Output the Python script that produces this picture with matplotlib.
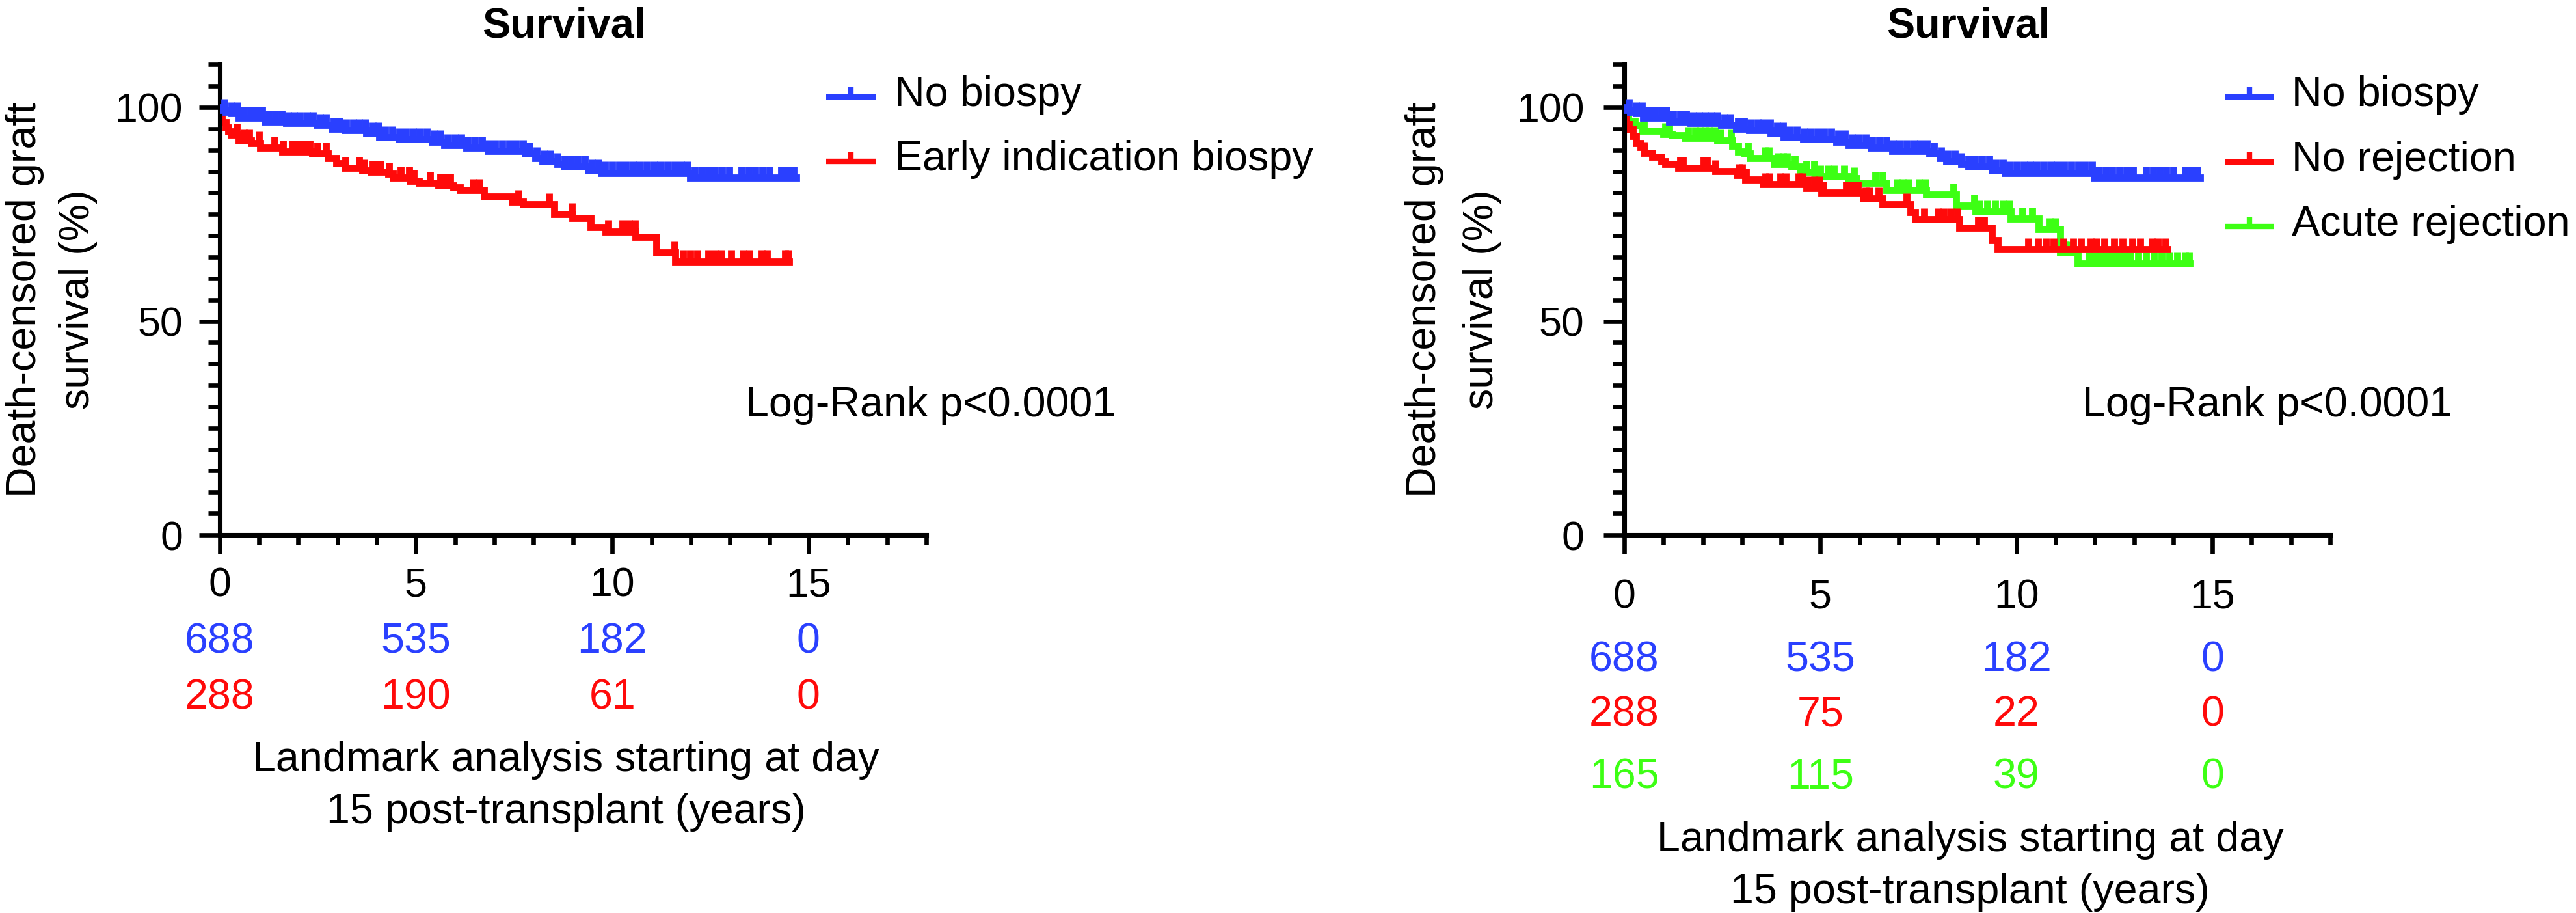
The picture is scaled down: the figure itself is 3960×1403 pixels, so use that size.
import numpy as np
import matplotlib
matplotlib.use("Agg")
import matplotlib.pyplot as plt
from matplotlib import transforms
from matplotlib.lines import Line2D
from matplotlib.ticker import MultipleLocator

plt.rcParams['font.family'] = ['Liberation Sans', 'DejaVu Sans']

W, H = 3960, 1403
BLUE = '#2a40ff'
RED = '#ff0a0a'
GREEN = '#3dff14'

# Kaplan-Meier steps: time (years) where the step starts, survival (%)
nobiopsy_t = [0, 0.03, 0.15, 0.30, 0.48, 1.15, 1.70, 2.47, 2.86, 3.19, 3.74, 4.07, 4.57, 5.40,
              5.73, 6.29, 6.84, 7.78, 8.05, 8.22, 8.60, 8.77, 9.38, 9.71, 11.98]
nobiopsy_s = [100, 99.4, 99.0, 98.6, 97.6, 96.7, 96.4, 95.9, 95.0, 94.6, 93.9, 93.0, 92.5, 92.0,
              91.1, 90.5, 89.8, 89.2, 88.1, 87.4, 86.7, 86.2, 85.2, 84.7, 83.6]
nobiopsy_end = 14.68
nobiopsy_cens = [0.12, 0.3, 0.45, 0.62, 0.78, 0.95, 1.08, 1.25, 1.42, 1.58, 1.75, 1.9, 2.05, 2.22,
                 2.38, 2.55, 2.7, 2.9, 3.05, 3.22, 3.4, 3.55, 3.72, 3.9, 4.05, 4.22, 4.4, 4.58,
                 4.75, 4.92, 5.1, 5.28, 5.45, 5.62, 5.8, 5.98, 6.15, 6.32, 6.5, 6.68, 6.85, 7.02,
                 7.2, 7.38, 7.55, 7.72, 7.9, 8.08, 8.25, 8.42, 8.6, 8.78, 8.95, 9.12, 9.3, 9.48,
                 9.65, 9.82, 10.0, 10.18, 10.35, 10.52, 10.7, 10.88, 11.05, 11.22, 11.4, 11.58,
                 11.75, 11.92, 12.1, 12.28, 12.45, 12.62, 12.8, 12.98, 13.3, 13.48, 13.65, 13.82,
                 14.0, 14.3, 14.47, 14.62]

early_t = [0, 0.02, 0.06, 0.15, 0.22, 0.29, 0.48, 0.81, 1.03, 1.59, 2.36, 2.75, 2.97, 3.19, 3.63,
           3.85, 4.30, 4.41, 4.85, 5.07, 5.57, 5.95, 6.12, 6.73, 7.45, 7.72, 8.52, 8.99, 9.45,
           9.84, 10.59, 11.12, 11.61]
early_s = [100, 97.8, 96.5, 95.3, 94.3, 93.6, 92.2, 91.7, 90.5, 89.7, 89.2, 88.2, 86.9, 85.9, 85.2,
           84.9, 84.4, 83.6, 82.8, 82.3, 81.8, 81.3, 80.7, 79.1, 78.0, 77.3, 75.0, 74.1, 72.0,
           71.0, 69.7, 66.1, 64.0]
early_end = 14.50
early_cens = [0.43, 0.62, 0.75, 1.0, 1.4, 1.62, 1.85, 1.95, 2.05, 2.2, 2.3, 2.5, 2.7, 3.2, 3.55,
              3.68, 3.9, 4.0, 4.1, 4.32, 4.62, 4.82, 4.95, 5.35, 5.62, 5.75, 5.88, 6.45, 6.62,
              7.61, 8.39, 8.97, 9.89, 10.27, 10.43, 10.57, 11.59, 11.81, 11.98, 12.17, 12.45,
              12.62, 12.78, 13.03, 13.32, 13.50, 13.80, 13.94, 14.41, 14.48]

norej_t = [0, 0.02, 0.05, 0.12, 0.22, 0.30, 0.41, 0.49, 0.71, 0.94, 1.05, 1.38, 2.32, 2.87, 3.09,
           3.54, 4.65, 5.03, 6.09, 6.58, 7.30, 7.41, 8.55, 9.38, 9.52]
norej_s = [100, 97.8, 96.0, 94.8, 93.3, 91.7, 90.7, 89.3, 88.4, 87.4, 86.7, 85.9, 85.1, 84.2, 83.1,
           82.1, 81.2, 80.1, 78.7, 77.3, 75.5, 73.8, 71.8, 68.9, 66.8]
norej_end = 13.86
norej_cens = [0.5, 1.42, 1.5, 2.02, 2.1, 2.33, 2.92, 3.0, 3.1, 3.6, 3.7, 3.98, 4.12, 4.45, 4.55,
              4.68, 4.85, 4.98, 5.08, 5.65, 5.8, 5.95, 6.15, 6.25, 6.48, 7.2, 7.64, 8.0, 8.15,
              8.32, 8.5, 9.02, 9.18, 10.3, 10.55, 10.75, 10.95, 11.2, 11.45, 11.65, 11.9, 12.05,
              12.25, 12.5, 12.7, 12.95, 13.15, 13.45, 13.6, 13.8]

acute_t = [0, 0.02, 0.105, 0.27, 0.44, 0.99, 1.21, 1.54, 2.38, 2.76, 2.90, 3.07, 3.21, 3.82, 4.26,
           4.48, 4.87, 5.70, 5.92, 6.69, 7.69, 8.46, 8.96, 9.85, 10.57, 11.12, 11.56]
acute_s = [100, 98.3, 96.8, 95.8, 94.5, 93.8, 93.5, 92.8, 92.2, 91.0, 89.7, 89.2, 88.1, 86.7, 86.1,
           84.9, 83.9, 83.4, 82.4, 80.6, 79.6, 77.0, 75.7, 73.9, 71.5, 66.1, 63.5]
acute_end = 14.42
acute_cens = [0.5, 1.05, 1.15, 1.62, 1.8, 1.92, 2.05, 2.18, 2.3, 2.45, 2.72, 3.15, 3.58, 3.68,
              3.92, 4.05, 4.15, 4.35, 4.65, 4.85, 5.0, 5.2, 5.35, 5.6, 5.85, 6.4, 6.58, 6.95,
              7.1, 7.25, 7.52, 7.68, 8.4, 8.92, 9.05, 9.25, 9.45, 9.65, 9.82, 10.15, 10.4,
              10.85, 11.0, 11.25, 11.38, 11.85, 12.0, 12.15, 12.3, 12.45, 12.6, 12.75, 12.9,
              13.1, 13.3, 13.5, 13.7, 13.9, 14.1, 14.3, 14.4]

# numbers at risk
risk_times = [0, 5, 10, 15]
risk_nobiopsy = [688, 535, 182, 0]
risk_early = [288, 190, 61, 0]
risk_norej = [288, 75, 22, 0]
risk_acute = [165, 115, 39, 0]

XLABEL = ["Landmark analysis starting at day", "15 post-transplant (years)"]
YLABEL = ["Death-censored graft", "survival (%)"]

fig = plt.figure(figsize=(W / 300, H / 300), dpi=300)
# pixel coordinates measured from the top-left corner of the image
pix = transforms.Affine2D().scale(1 / W, -1 / H).translate(0, 1) + fig.transFigure

FS = 15.5
LW = 2.6


def draw_curve(ax, t, s, end, cens, color, z):
    xs = list(t) + [end]
    ys = list(s) + [s[-1]]
    ax.step(xs, ys, where='post', color=color, lw=LW, zorder=z, solid_joinstyle='miter')
    idx = np.searchsorted(t, cens, side='right') - 1
    base = np.array(s)[idx]
    ax.vlines(cens, base, base + 2.6, color=color, lw=2.6, zorder=z)


def style_axes(ax, xpad, ypad):
    ax.set_xlim(0, 18)
    ax.set_ylim(0, 110)
    ax.spines['top'].set_visible(False)
    ax.spines['right'].set_visible(False)
    ax.spines['left'].set_linewidth(1.7)
    ax.spines['bottom'].set_linewidth(1.7)
    ax.set_xticks(risk_times)
    ax.xaxis.set_minor_locator(MultipleLocator(1))
    ax.set_yticks([0, 50, 100])
    ax.yaxis.set_minor_locator(MultipleLocator(5))
    ax.tick_params(axis='x', which='major', length=7, width=1.6, labelsize=15, pad=xpad)
    ax.tick_params(axis='x', which='minor', length=3.5, width=1.6)
    ax.tick_params(axis='y', which='major', length=7.6, width=1.6, labelsize=15, pad=ypad)
    ax.tick_params(axis='y', which='minor', length=4.4, width=1.6)


def legend(entries, x0, x1, xt, rows):
    for (label, color), yb in zip(entries, rows):
        yc = yb - 14
        fig.add_artist(Line2D([x0, x1], [yc, yc], color=color, lw=2.0, transform=pix,
                              solid_capstyle='butt'))
        xm = (x0 + x1) / 2
        fig.add_artist(Line2D([xm, xm], [yc, yc - 15], color=color, lw=2.0, transform=pix,
                              solid_capstyle='butt'))
        fig.text(xt, yb, label, transform=pix, fontsize=FS, va='baseline', ha='left')


def panel(rect, curves, risks, xpad, ypad, title_x, ylabel_xs, logrank_x, risk_rows,
          xlabel_rows, legend_pos):
    ax = fig.add_axes(rect)
    for t, s, end, cens, color, z in curves:
        draw_curve(ax, t, s, end, cens, color, z)
    style_axes(ax, xpad, ypad)

    fig.text(title_x, 57, "Survival", transform=pix, fontsize=FS, fontweight='bold',
             ha='center', va='baseline')
    ylab_tr = transforms.blended_transform_factory(pix, ax.transAxes)
    for line, xc in zip(YLABEL, ylabel_xs):
        ax.text(xc, 0.5, line, transform=ylab_tr, rotation=90, fontsize=FS,
                ha='center', va='center')
    fig.text(logrank_x, 640, "Log-Rank p<0.0001", transform=pix, fontsize=FS,
             ha='left', va='baseline')

    row_tr = transforms.blended_transform_factory(ax.transData, pix)
    for (vals, color), yb in zip(risks, risk_rows):
        for tx, v in zip(risk_times, vals):
            ax.text(tx, yb, str(v), transform=row_tr, color=color, fontsize=FS,
                    ha='center', va='baseline', clip_on=False)
    for line, yb in zip(XLABEL, xlabel_rows):
        ax.text(8.82, yb, line, transform=row_tr, fontsize=FS, ha='center', va='baseline',
                clip_on=False)

    legend(legend_pos[3], legend_pos[0], legend_pos[1], legend_pos[2], legend_pos[4])
    return ax


panel([337.6 / W, 1 - 822 / H, (1424 - 337.6) / W, (822 - 99.3) / H],
      [(nobiopsy_t, nobiopsy_s, nobiopsy_end, nobiopsy_cens, BLUE, 3),
       (early_t, early_s, early_end, early_cens, RED, 2)],
      [(risk_nobiopsy, BLUE), (risk_early, RED)],
      xpad=4.6, ypad=6.0, title_x=867, ylabel_xs=[38, 120], logrank_x=1146,
      risk_rows=[1004, 1090], xlabel_rows=[1185, 1265],
      legend_pos=(1270, 1346, 1375,
                  [("No biospy", BLUE), ("Early indication biospy", RED)],
                  [163, 262]))

panel([2497 / W, 1 - 822 / H, (3582 - 2497) / W, (822 - 99.3) / H],
      [(acute_t, acute_s, acute_end, acute_cens, GREEN, 1),
       (norej_t, norej_s, norej_end, norej_cens, RED, 2),
       (nobiopsy_t, nobiopsy_s, nobiopsy_end, nobiopsy_cens, BLUE, 3)],
      [(risk_nobiopsy, BLUE), (risk_norej, RED), (risk_acute, GREEN)],
      xpad=9.0, ypad=7.2, title_x=3026, ylabel_xs=[2190, 2278], logrank_x=3201,
      risk_rows=[1031, 1115, 1211], xlabel_rows=[1308, 1388],
      legend_pos=(3420, 3496, 3523,
                  [("No biospy", BLUE), ("No rejection", RED), ("Acute rejection", GREEN)],
                  [163, 263, 362]))

fig.savefig("out.png", dpi=300)
